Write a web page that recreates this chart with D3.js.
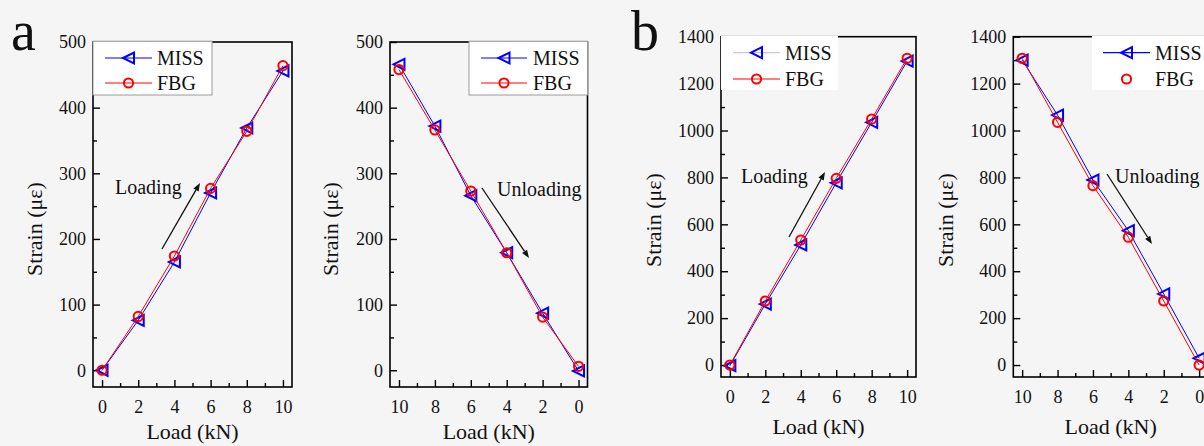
<!DOCTYPE html>
<html>
<head>
<meta charset="utf-8">
<script src="https://cdn.jsdelivr.net/npm/d3@7"></script>
<style>
  html, body { margin: 0; padding: 0; background: #f5f5f5; }
  svg { display: block; }
  text { font-family: "Liberation Serif", "Times New Roman", serif; fill: #111; }
</style>
</head>
<body>
<svg id="chart" width="1204" height="446"></svg>
<script>
// Load steps (kN)
const loadUp = [0, 2, 4, 6, 8, 10];
const loadDown = [10, 8, 6, 4, 2, 0];

// Specimen a: strain (με)
const aLoadingMISS = [0, 76, 165, 270, 369, 456];
const aLoadingFBG = [0, 82, 174, 277, 364, 464];
const aUnloadingMISS = [466, 372, 266, 179, 87, -1];
const aUnloadingFBG = [458, 366, 273, 179, 81, 6];

// Specimen b: strain (με)
const bLoadingMISS = [-3, 260, 512, 777, 1035, 1296];
const bLoadingFBG = [0, 273, 533, 796, 1049, 1308];
const bUnloadingMISS = [1300, 1066, 789, 573, 303, 29];
const bUnloadingFBG = [1308, 1035, 765, 545, 273, 0];

// Axis ticks
const xTicks = [0, 2, 4, 6, 8, 10];
const xMinor = [1, 3, 5, 7, 9];
const yTicksA = [0, 100, 200, 300, 400, 500];
const yMinorA = [50, 150, 250, 350, 450];
const yTicksB = [0, 200, 400, 600, 800, 1000, 1200, 1400];
const yMinorB = [100, 300, 500, 700, 900, 1100, 1300];

const seriesNames = ["MISS", "FBG"];
const BLUE = "#0000ff", RED = "#ff0000";
const SERIF = "'Liberation Serif', 'Times New Roman', serif";

const svg = d3.select("#chart");

function triPath(s) {
  // left-pointing open triangle
  const w = s, h = s;
  return `M${-w / 2},0L${w / 2},${-h / 2}L${w / 2},${h / 2}Z`;
}

function drawPanel(cfg) {
  const { left, right, top, bottom, xDomain, yDomain, yTicks, yMinor, xs, miss, fbg } = cfg;
  const x = d3.scaleLinear().domain(xDomain).range([left, right]);
  const y = d3.scaleLinear().domain(yDomain).range([bottom, top]);
  const g = svg.append("g");
  const fmt = d3.format("d");

  // frame
  g.append("rect")
    .attr("x", left).attr("y", top)
    .attr("width", right - left).attr("height", bottom - top)
    .attr("fill", "none").attr("stroke", "#000").attr("stroke-width", 1.6);

  // x axis (inward ticks)
  g.append("g").attr("transform", `translate(0,${bottom})`)
    .call(d3.axisBottom(x).tickValues(xTicks).tickFormat(fmt).tickSizeInner(-7).tickSizeOuter(0).tickPadding(13));
  g.append("g").attr("transform", `translate(0,${bottom})`)
    .call(d3.axisBottom(x).tickValues(xMinor).tickSizeInner(-4).tickSizeOuter(0).tickFormat(""));
  // y axis
  g.append("g").attr("transform", `translate(${left},0)`)
    .call(d3.axisLeft(y).tickValues(yTicks).tickFormat(fmt).tickSizeInner(-7).tickSizeOuter(0).tickPadding(7));
  g.append("g").attr("transform", `translate(${left},0)`)
    .call(d3.axisLeft(y).tickValues(yMinor).tickSizeInner(-4).tickSizeOuter(0).tickFormat(""));

  g.selectAll(".domain").remove();
  g.selectAll(".tick line").attr("stroke", "#000").attr("stroke-width", 1.4);
  g.selectAll(".tick text").style("font-size", "18px").style("font-family", SERIF).attr("fill", "#111");

  // series
  const pts = (vals) => xs.map((v, i) => [x(v), y(vals[i])]);
  const line = d3.line();
  const pm = pts(miss), pf = pts(fbg);
  g.append("path").attr("d", line(pm)).attr("fill", "none").attr("stroke", BLUE).attr("stroke-width", 1);
  g.selectAll(".tri").data(pm).join("path")
    .attr("transform", d => `translate(${d[0]},${d[1]})`)
    .attr("d", triPath(11))
    .attr("fill", "none").attr("stroke", BLUE).attr("stroke-width", 2);
  g.append("path").attr("d", line(pf)).attr("fill", "none").attr("stroke", RED).attr("stroke-width", 1);
  g.selectAll(".circ").data(pf).join("circle")
    .attr("cx", d => d[0]).attr("cy", d => d[1]).attr("r", 4.6)
    .attr("fill", "none").attr("stroke", RED).attr("stroke-width", 2);

  // axis titles
  g.append("text").attr("x", (left + right) / 2).attr("y", cfg.xTitleY)
    .attr("text-anchor", "middle").style("font-size", "22px").style("font-family", SERIF).text("Load (kN)");
  g.append("text")
    .attr("transform", `translate(${cfg.yTitleX},${cfg.yTitleY}) rotate(-90)`)
    .attr("text-anchor", "middle").attr("dy", "0.35em")
    .style("font-size", "22px").style("font-family", SERIF).text("Strain (με)");

  // legend
  const L = cfg.legend;
  g.append("rect").attr("x", L.x0).attr("y", top - 0.8)
    .attr("width", L.x1 - L.x0).attr("height", L.y1 - top + 0.8)
    .attr("fill", "#fff")
    .attr("stroke", L.border ? "#9a9a9a" : "none").attr("stroke-width", 1);
  const rows = [
    { name: seriesNames[0], y: L.rowY[0], color: L.missLineColor || BLUE, line: true, mark: "tri" },
    { name: seriesNames[1], y: L.rowY[1], color: RED, line: L.fbgLine !== false, mark: "circ" }
  ];
  rows.forEach(r => {
    if (r.line) {
      g.append("line").attr("x1", L.lx0).attr("x2", L.lx1).attr("y1", r.y).attr("y2", r.y)
        .attr("stroke", r.color).attr("stroke-width", 1.2);
    }
    const mx = (L.lx0 + L.lx1) / 2;
    if (r.mark === "tri") {
      g.append("path").attr("transform", `translate(${mx},${r.y})`).attr("d", triPath(11))
        .attr("fill", "none").attr("stroke", BLUE).attr("stroke-width", 2);
    } else {
      g.append("circle").attr("cx", mx).attr("cy", r.y).attr("r", 4.6)
        .attr("fill", "none").attr("stroke", RED).attr("stroke-width", 2);
    }
    g.append("text").attr("x", L.tx).attr("y", r.y).attr("dy", "0.34em")
      .style("font-size", "20px").style("font-family", SERIF).text(r.name);
  });

  // annotation with arrow
  const A = cfg.note;
  g.append("text").attr("x", A.tx).attr("y", A.ty).style("font-size", "20px").style("font-family", SERIF).text(A.text);
  const ang = Math.atan2(A.y2 - A.y1, A.x2 - A.x1);
  const hl = 8, hw = 3;
  const bx = A.x2 - hl * Math.cos(ang), by = A.y2 - hl * Math.sin(ang);
  g.append("line").attr("x1", A.x1).attr("y1", A.y1).attr("x2", bx).attr("y2", by)
    .attr("stroke", "#111").attr("stroke-width", 1.3);
  g.append("path")
    .attr("d", `M${A.x2},${A.y2}L${bx - hw * Math.sin(ang)},${by + hw * Math.cos(ang)}L${bx + hw * Math.sin(ang)},${by - hw * Math.cos(ang)}Z`)
    .attr("fill", "#111");
}

// panel a, loading
drawPanel({
  left: 93, right: 292, top: 42, bottom: 387,
  xDomain: [-0.5, 10.5], yDomain: [-25.5, 500], yTicks: yTicksA, yMinor: yMinorA,
  xs: loadUp, miss: aLoadingMISS, fbg: aLoadingFBG,
  xTitleY: 439, yTitleX: 34, yTitleY: 229,
  legend: { x0: 93, x1: 212, y1: 95, border: true, rowY: [58, 83], lx0: 105, lx1: 152, tx: 157 },
  note: { text: "Loading", tx: 115, ty: 194, x1: 162, y1: 249, x2: 200, y2: 183 }
});
// panel a, unloading
drawPanel({
  left: 390, right: 587.5, top: 42, bottom: 387,
  xDomain: [10.5, -0.5], yDomain: [-25.5, 500], yTicks: yTicksA, yMinor: yMinorA,
  xs: loadDown, miss: aUnloadingMISS, fbg: aUnloadingFBG,
  xTitleY: 439, yTitleX: 330, yTitleY: 229,
  legend: { x0: 469, x1: 587.5, y1: 95, border: true, rowY: [58, 83], lx0: 481, lx1: 527, tx: 533 },
  note: { text: "Unloading", tx: 497, ty: 196, x1: 482, y1: 188, x2: 529, y2: 258 }
});
// panel b, loading
drawPanel({
  left: 721, right: 916, top: 36.7, bottom: 377,
  xDomain: [-0.5, 10.5], yDomain: [-51, 1400], yTicks: yTicksB, yMinor: yMinorB,
  xs: loadUp, miss: bLoadingMISS, fbg: bLoadingFBG,
  xTitleY: 434, yTitleX: 653, yTitleY: 220,
  legend: { x0: 721, x1: 838, y1: 90, border: false, rowY: [52.7, 79], lx0: 733, lx1: 780, tx: 785, missLineColor: "#c8c8f0" },
  note: { text: "Loading", tx: 741, ty: 183, x1: 789, y1: 237, x2: 825, y2: 172 }
});
// panel b, unloading
drawPanel({
  left: 1013.3, right: 1208, top: 36.7, bottom: 377,
  xDomain: [10.5, -0.5], yDomain: [-51, 1400], yTicks: yTicksB, yMinor: yMinorB,
  xs: loadDown, miss: bUnloadingMISS, fbg: bUnloadingFBG,
  xTitleY: 434, yTitleX: 945, yTitleY: 220,
  legend: { x0: 1092, x1: 1208, y1: 90, border: false, rowY: [52.7, 79], lx0: 1103, lx1: 1150, tx: 1155, fbgLine: false },
  note: { text: "Unloading", tx: 1115, ty: 183, x1: 1107, y1: 174, x2: 1152, y2: 244 }
});

// panel letters
svg.append("text").attr("x", 11).attr("y", 50).style("font-size", "56px").style("font-family", SERIF).text("a");
svg.append("text").attr("x", 631).attr("y", 50).style("font-size", "56px").style("font-family", SERIF).text("b");
</script>
</body>
</html>
